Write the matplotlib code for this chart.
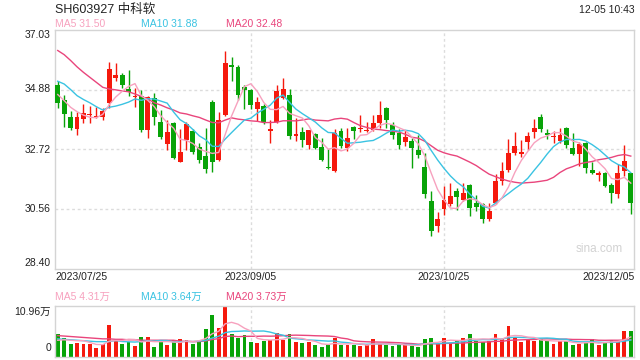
import numpy as np
import pandas as pd
import matplotlib
matplotlib.use("Agg")
import matplotlib.pyplot as plt

plt.rcParams['font.family'] = ['Liberation Sans', 'Noto Sans CJK SC', 'DejaVu Sans']

# ---------------- data ----------------
code_name = "SH603927 中科软"
stamp = "12-05 10:43"
tick_labels = ["2023/07/25", "2023/09/05", "2023/10/25", "2023/12/05"]
holidays = ["2023-09-29", "2023-10-02", "2023-10-03", "2023-10-04", "2023-10-05", "2023-10-06"]

open_ = [35.04, 34.52, 33.90, 33.44, 33.80, 33.97, 33.89, 33.89, 34.40, 35.30,
         35.41, 34.90, 34.60, 34.63, 33.41, 34.58, 33.72, 32.93, 33.68, 32.28,
         33.05, 33.38, 32.82, 32.48, 34.44, 32.35, 33.95, 35.76, 35.70, 34.98,
         34.88, 34.16, 34.28, 33.38, 33.71, 34.56, 34.70, 33.19, 33.35, 32.87,
         33.29, 32.82, 32.10, 31.94, 33.38, 32.76, 33.51, 33.44, 33.39, 33.42,
         33.68, 34.22, 33.60, 33.32, 33.00, 33.02, 32.69, 32.09, 30.84, 29.94,
         30.56, 30.75, 31.20, 30.89, 31.45, 30.77, 30.75, 30.20, 30.77, 31.58,
         31.97, 32.60, 32.54, 32.97, 33.36, 33.89, 33.32, 33.18, 33.02, 33.50,
         32.78, 32.54, 32.96, 31.98, 31.81, 31.88, 31.44, 31.10, 31.94, 31.88]
high = [35.18, 34.68, 34.10, 34.08, 34.36, 34.28, 34.26, 34.22, 35.86, 35.84,
        35.48, 35.59, 34.94, 34.87, 34.64, 34.76, 34.14, 33.77, 33.70, 33.44,
        33.71, 33.47, 32.96, 33.50, 34.52, 34.08, 36.26, 36.04, 35.78, 35.04,
        34.90, 34.62, 34.36, 33.77, 35.04, 35.30, 34.90, 33.86, 33.53, 33.43,
        33.31, 33.14, 32.75, 33.44, 33.50, 33.48, 33.56, 33.96, 33.71, 33.96,
        34.46, 34.26, 33.71, 33.44, 33.41, 33.14, 33.24, 32.60, 31.20, 30.47,
        31.40, 31.49, 31.31, 31.49, 31.47, 31.08, 30.80, 30.80, 31.82, 32.28,
        33.11, 33.35, 33.06, 33.36, 33.80, 34.01, 33.44, 33.38, 33.48, 33.53,
        33.32, 33.00, 32.99, 32.28, 31.94, 31.90, 31.52, 32.18, 32.88, 31.88]
low = [34.22, 33.53, 33.41, 33.24, 33.66, 33.68, 33.84, 33.77, 34.22, 35.18,
       34.94, 34.64, 34.24, 33.35, 33.12, 33.60, 33.08, 32.71, 32.36, 32.26,
       32.70, 32.54, 32.21, 31.85, 31.92, 32.30, 33.92, 35.18, 34.52, 34.16,
       34.16, 33.74, 33.62, 32.96, 33.68, 34.54, 33.08, 33.02, 32.81, 32.72,
       32.75, 32.30, 32.02, 31.92, 32.78, 32.66, 33.08, 33.36, 33.36, 33.38,
       33.50, 33.50, 33.08, 32.72, 32.84, 32.06, 32.40, 30.96, 29.60, 29.72,
       30.35, 30.68, 30.53, 30.84, 30.31, 30.48, 30.06, 30.12, 30.75, 31.44,
       31.92, 32.52, 32.46, 32.69, 33.14, 33.36, 33.08, 32.96, 32.96, 32.76,
       32.52, 32.12, 31.88, 31.82, 31.58, 31.37, 30.78, 30.96, 31.76, 30.38]
close = [34.40, 33.98, 33.48, 33.90, 34.02, 34.01, 33.90, 34.10, 35.62, 35.41,
         35.04, 34.78, 34.62, 33.41, 34.60, 33.89, 33.17, 33.36, 32.40, 32.64,
         33.62, 32.64, 32.33, 32.00, 32.28, 33.79, 35.84, 35.71, 34.70, 34.88,
         34.32, 34.44, 33.72, 33.47, 34.82, 34.90, 33.19, 33.29, 33.05, 33.41,
         32.78, 32.35, 32.04, 33.32, 32.83, 33.14, 33.38, 33.48, 33.43, 33.66,
         33.96, 33.77, 33.24, 32.87, 33.18, 32.78, 32.51, 31.10, 29.76, 30.20,
         30.90, 31.04, 31.01, 31.16, 30.60, 30.65, 30.20, 30.48, 31.58, 31.94,
         32.60, 32.85, 32.62, 33.22, 33.50, 33.44, 33.25, 33.20, 33.24, 32.86,
         32.54, 32.93, 32.06, 31.88, 31.85, 31.39, 31.16, 31.85, 32.30, 30.80]
# volume in 万 shares
volume = [4.9, 4.0, 2.9, 3.1, 2.7, 2.9, 1.9, 2.7, 6.8, 3.4,
          2.9, 3.3, 2.4, 4.2, 4.4, 2.2, 3.3, 2.5, 3.7, 3.9,
          3.7, 2.9, 3.3, 6.1, 9.0, 6.3, 10.96, 4.9, 4.1, 4.7,
          3.2, 3.1, 3.5, 3.7, 5.1, 3.7, 4.9, 3.2, 3.0, 3.2,
          2.5, 2.2, 2.6, 4.1, 2.6, 2.6, 2.6, 2.3, 2.6, 3.9,
          2.7, 2.6, 2.3, 2.7, 2.7, 2.4, 2.2, 3.9, 4.1, 3.1,
          4.0, 3.0, 3.6, 4.0, 5.0, 3.5, 3.3, 3.5, 5.0, 3.8,
          6.6, 4.2, 3.2, 3.6, 3.4, 3.9, 3.6, 2.8, 3.4, 3.4,
          2.6, 2.85, 3.05, 3.8, 2.55, 3.2, 3.7, 3.4, 5.6, 5.65]

# moving-average values at the left edge (window starts before the visible range)
ma5_head = [34.70, 34.48, 34.24, 34.08]
ma10_head = [35.18, 35.08, 34.88, 34.66, 34.52, 34.40, 34.26, 34.14, 34.24]
ma20_head = [36.29, 36.14, 35.93, 35.70, 35.50, 35.32, 35.14, 34.96, 34.90, 34.87,
             34.83, 34.80, 34.72, 34.63, 34.54, 34.40, 34.32, 34.22, 34.14]
vma5_head = [3.6, 3.7, 3.6, 3.5]
vma10_head = [3.9, 3.8, 3.7, 3.6, 3.5, 3.4, 3.3, 3.3, 3.3]
vma20_head = [4.6, 4.5, 4.4, 4.3, 4.2, 4.1, 4.0, 3.9, 3.9, 3.8,
              3.8, 3.7, 3.7, 3.6, 3.6, 3.6, 3.6, 3.6, 3.6]

price_ticks = [37.03, 34.88, 32.72, 30.56, 28.40]
vol_top_label = "10.96万"
vol_max = 10.96

# ---------------- styling ----------------
RED = "#f5190d"
GREEN = "#08a308"
C_MA5 = "#f7a1be"
C_MA10 = "#3ac3e2"
C_MA20 = "#e9457c"
GRID = "#dcdcdc"
FRAME = "#d4d4d4"

dates = pd.bdate_range("2023-07-25", "2023-12-05")
dates = dates[~dates.isin(pd.to_datetime(holidays))]
labels = dates.strftime("%Y/%m/%d").tolist()
n = len(close)
x = np.arange(n)


def with_head(series, window, head):
    s = pd.Series(series).rolling(window).mean().to_numpy()
    s[:len(head)] = head
    return s


ma5 = with_head(close, 5, ma5_head)
ma10 = with_head(close, 10, ma10_head)
ma20 = with_head(close, 20, ma20_head)
vma5 = with_head(volume, 5, vma5_head)
vma10 = with_head(volume, 10, vma10_head)
vma20 = with_head(volume, 20, vma20_head)

W, H = 640, 360
fig = plt.figure(figsize=(W / 100, H / 100), dpi=100)


def ax_at(l, t, r, b):
    return fig.add_axes([l / W, 1 - b / H, (r - l) / W, (b - t) / H])


def ftext(px, py, s, **kw):
    fig.text(px / W, 1 - py / H, s, **kw)


ax = ax_at(54.5, 30, 634, 269)
axv = ax_at(54.5, 306, 634, 357)

for a in (ax, axv):
    a.set_xlim(-0.5, n - 0.5)
    a.set_xticks([])
    a.set_yticks([])
    for sp in a.spines.values():
        sp.set_color(FRAME)
        sp.set_linewidth(1)

ax.set_ylim(price_ticks[-1], price_ticks[0])
axv.set_ylim(0, vol_max)

# grid
for v in price_ticks[1:-1]:
    ax.axhline(v, color=GRID, lw=1, ls=(0, (2, 2)), zorder=0)
tick_idx = [labels.index(t) for t in tick_labels]
for i in tick_idx[1:-1]:
    ax.axvline(i, color=GRID, lw=1, ls=(0, (2, 2)), zorder=0)
    axv.axvline(i, color=GRID, lw=1, ls=(0, (2, 2)), zorder=0)

# candles
o = np.array(open_); c = np.array(close); h = np.array(high); l = np.array(low)
up = c >= o
cols = np.where(up, RED, GREEN)
ax.vlines(x, l, h, colors=cols, lw=1, zorder=2)
body_b = np.minimum(o, c)
body_h = np.maximum(np.abs(c - o), 0.04)
ax.bar(x, body_h, bottom=body_b, width=0.76, color=cols, zorder=3, linewidth=0)

ax.plot(x, ma20, color=C_MA20, lw=1, zorder=4)
ax.plot(x, ma10, color=C_MA10, lw=1, zorder=4)
ax.plot(x, ma5, color=C_MA5, lw=1, zorder=4)

# volume
axv.bar(x, volume, width=0.6, color=cols, linewidth=0, zorder=2)
axv.plot(x, vma20, color=C_MA20, lw=1, zorder=3)
axv.plot(x, vma10, color=C_MA10, lw=1, zorder=3)
axv.plot(x, vma5, color=C_MA5, lw=1, zorder=3)

# texts
ftext(55, 10, code_name, fontsize=9, color="#222222", va="center", ha="left")
ftext(635, 10, stamp, fontsize=7.5, color="#222222", va="center", ha="right")
fs = 7.5
ftext(55, 24, f"MA5 {ma5[-1]:.2f}", fontsize=fs, color=C_MA5, va="center")
ftext(141, 24, f"MA10 {ma10[-1]:.2f}", fontsize=fs, color=C_MA10, va="center")
ftext(226, 24, f"MA20 {ma20[-1]:.2f}", fontsize=fs, color=C_MA20, va="center")

ylab_y = [35, 89.5, 149.5, 209, 263]
for v, py in zip(price_ticks, ylab_y):
    ftext(51, py, f"{v:.2f}", fontsize=fs, color="#222222", va="center", ha="right")

xl = [tick_idx[0], tick_idx[1], tick_idx[2], tick_idx[3]]
ha_list = ["left", "center", "center", "right"]
for i, t, ha in zip(xl, tick_labels, ha_list):
    if ha == "left":
        px = 55
    elif ha == "right":
        px = 635
    else:
        px = 54.5 + (i + 0.5) * (634 - 54.5) / n
    ftext(px, 277, t, fontsize=fs, color="#222222", va="center", ha=ha)

ftext(55, 297, f"MA5 {vma5[-1]:.2f}万", fontsize=fs, color=C_MA5, va="center")
ftext(141, 297, f"MA10 {vma10[-1]:.2f}万", fontsize=fs, color=C_MA10, va="center")
ftext(226, 297, f"MA20 {vma20[-1]:.2f}万", fontsize=fs, color=C_MA20, va="center")
ftext(51, 312, vol_top_label, fontsize=fs, color="#222222", va="center", ha="right")
ftext(51, 348, "0", fontsize=fs, color="#222222", va="center", ha="right")

ftext(623, 249, "sina.com", fontsize=8.5, color="#d2d2d2", va="center", ha="right")

fig.savefig("out.png", dpi=100)
